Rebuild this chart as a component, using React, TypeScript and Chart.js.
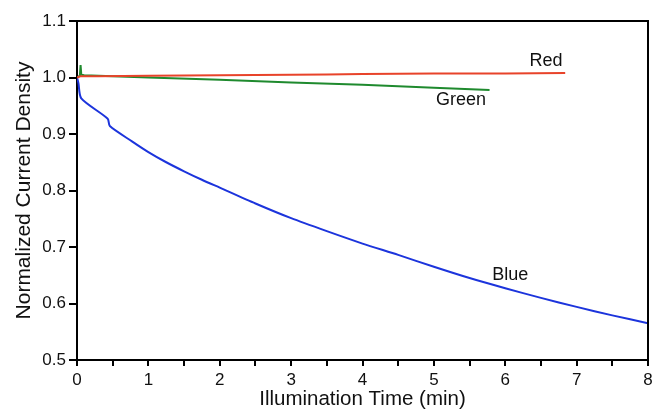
import React, { useEffect, useRef } from "react";
import { Chart, registerables } from "chart.js";

Chart.register(...registerables);

const redX = [0, 0.05, 0.3, 1, 2, 3, 4, 5, 6, 6.84];
const redY = [1.0, 1.002, 1.002, 1.003, 1.004, 1.005, 1.006, 1.007, 1.007, 1.008];

const greenX = [0, 0.04, 0.05, 0.06, 0.1, 0.3, 1, 2, 3, 4, 5, 5.78];
const greenY = [1.0, 1.003, 1.022, 1.005, 1.004, 1.003, 1.0, 0.996, 0.991, 0.987, 0.982, 0.978];

const blueX = [0, 0.02, 0.06, 0.43, 0.46, 0.77, 1, 1.25, 1.5, 1.75, 2, 2.5, 3, 3.5, 4, 4.5, 5, 5.5, 6, 6.5, 7, 7.5, 8];
const blueY = [1.0, 0.99, 0.963, 0.927, 0.914, 0.887, 0.868, 0.85, 0.834, 0.819, 0.805, 0.777, 0.751, 0.728, 0.706, 0.686, 0.665, 0.645, 0.627, 0.61, 0.594, 0.579, 0.565];

const seriesNames = ["Red", "Green", "Blue"];
const labelX = [6.57, 5.38, 6.07];
const labelY = [1.02, 0.951, 0.642];

const xTitle = "Illumination Time (min)";
const yTitle = "Normalized Current Density";

const FONT = "'Liberation Sans', Arial, sans-serif";

export default function App() {
  const ref = useRef<HTMLCanvasElement>(null);
  useEffect(() => {
    document.body.style.margin = "0";
    const toPts = (xs: number[], ys: number[]) => xs.map((x, i) => ({ x, y: ys[i] }));
    const labelPlugin = {
      id: "labels",
      afterDraw(chart: any) {
        const { ctx, chartArea, scales } = chart;
        ctx.save();
        ctx.strokeStyle = "#000";
        ctx.lineWidth = 2;
        ctx.beginPath();
        ctx.moveTo(chartArea.left, chartArea.top);
        ctx.lineTo(chartArea.right, chartArea.top);
        ctx.lineTo(chartArea.right, chartArea.bottom);
        ctx.stroke();
        ctx.fillStyle = "#111";
        ctx.font = `18px ${FONT}`;
        ctx.textAlign = "center";
        ctx.textBaseline = "alphabetic";
        seriesNames.forEach((n, i) => {
          ctx.fillText(n, scales.x.getPixelForValue(labelX[i]), scales.y.getPixelForValue(labelY[i]));
        });
        ctx.restore();
      },
    };
    const chart = new Chart(ref.current!, {
      type: "line",
      data: {
        datasets: [
          { label: "Red", data: toPts(redX, redY), borderColor: "#e8432a", borderWidth: 2, pointRadius: 0, tension: 0.2 },
          { label: "Green", data: toPts(greenX, greenY), borderColor: "#1f8a2e", borderWidth: 2, pointRadius: 0, tension: 0 },
          { label: "Blue", data: toPts(blueX, blueY), borderColor: "#1c34dc", borderWidth: 2, pointRadius: 0, tension: 0.25 },
        ],
      },
      options: {
        animation: false,
        responsive: false,
        layout: { padding: { left: 0, right: 13, top: 21, bottom: 0 } },
        plugins: { legend: { display: false }, tooltip: { enabled: false } },
        scales: {
          x: {
            type: "linear",
            min: 0,
            max: 8,
            afterFit: (s: any) => { s.height = 53; },
            border: { display: true, color: "#000", width: 2 },
            grid: { drawOnChartArea: false, color: "#000", lineWidth: 2, tickLength: 6 },
            ticks: {
              stepSize: 0.5,
              autoSkip: false,
              maxRotation: 0,
              color: "#111",
              font: { family: FONT, size: 17 },
              padding: 4,
              callback: (v: any) => (Number.isInteger(v) ? String(v) : ""),
            },
            title: { display: true, text: xTitle, color: "#111", font: { family: FONT, size: 20.5 }, padding: { top: 0, bottom: 1 } },
          },
          y: {
            min: 0.5,
            max: 1.1,
            afterFit: (s: any) => { s.width = 77; },
            border: { display: true, color: "#000", width: 2 },
            grid: { drawOnChartArea: false, color: "#000", lineWidth: 2, tickLength: 8 },
            ticks: {
              stepSize: 0.1,
              color: "#111",
              font: { family: FONT, size: 17 },
              padding: 3,
              callback: (v: any) => Number(v).toFixed(1),
            },
            title: { display: true, text: yTitle, color: "#111", font: { family: FONT, size: 21 }, padding: { top: 12, bottom: 2 } },
          },
        },
      },
      plugins: [labelPlugin],
    });
    return () => chart.destroy();
  }, []);
  return (
    <div style={{ width: 661, height: 413, background: "#fff" }}>
      <canvas ref={ref} width={661} height={413} />
    </div>
  );
}
